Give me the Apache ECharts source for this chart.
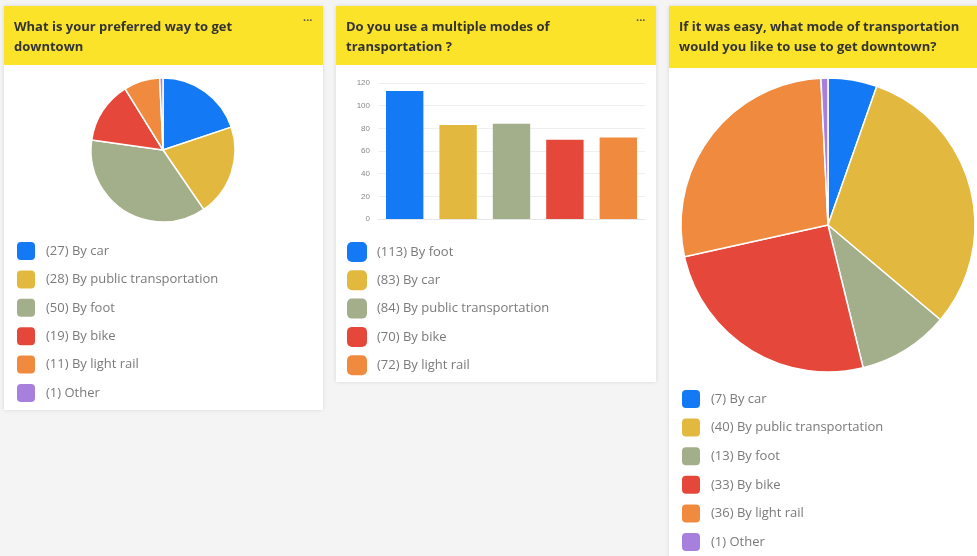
<!DOCTYPE html>
<html><head><meta charset="utf-8">
<script src="https://cdn.jsdelivr.net/npm/echarts@6/dist/echarts.min.js"></script>
<style>html,body{margin:0;padding:0;background:#f4f4f4;}#c{width:977px;height:556px;}</style>
</head><body><div id="c"></div>
<script>
// ---- data ----
const titles = [
  "What is your preferred way to get\ndowntown",
  "Do you use a multiple modes of\ntransportation ?",
  "If it was easy, what mode of transportation\nwould you like to use to get downtown?"
];
const pref1Labels = ["By car", "By public transportation", "By foot", "By bike", "By light rail", "Other"];
const pref1Values = [27, 28, 50, 19, 11, 1];
const multiLabels = ["By foot", "By car", "By public transportation", "By bike", "By light rail"];
const multiValues = [113, 83, 84, 70, 72];
const easyLabels = ["By car", "By public transportation", "By foot", "By bike", "By light rail", "Other"];
const easyValues = [7, 40, 13, 33, 36, 1];
const yTicks = [0, 20, 40, 60, 80, 100, 120];

const colors = ["#1479F5", "#E2B83E", "#A3AE8A", "#E5483A", "#EF8A3F", "#A77FDC"];
const legendText = {color: "#7a7a7a", fontSize: 13, fontFamily: "Open Sans", padding: [0, 0, 0, 5]};

function pieData(labels, values) {
  return labels.map((l, i) => ({name: "(" + values[i] + ") " + l, value: values[i], itemStyle: {color: colors[i]}}));
}
const pie1 = pieData(pref1Labels, pref1Values);
const pie3 = pieData(easyLabels, easyValues);
const barNames = multiLabels.map((l, i) => "(" + multiValues[i] + ") " + l);

const cards = [
  {x: 4, y: 6, w: 319, h: 404, hh: 59},
  {x: 336, y: 6, w: 320, h: 376, hh: 59},
  {x: 669, y: 6, w: 310, h: 552, hh: 62}
];
const graphic = [];
cards.forEach((c, i) => {
  graphic.push({type: "rect", shape: {x: c.x, y: c.y, width: c.w, height: c.h},
    style: {fill: "#fff", shadowBlur: 4, shadowColor: "rgba(0,0,0,0.12)"}, z: -10});
  graphic.push({type: "rect", shape: {x: c.x, y: c.y, width: c.w, height: c.hh},
    style: {fill: "#FBE32A"}, z: -9});
  graphic.push({type: "text", x: c.x + 10, y: c.y + 11,
    style: {text: titles[i], fill: "#333", font: "bold 13px 'Open Sans'", lineHeight: 20}, z: 5});
  if (i < 2) graphic.push({type: "text", x: c.x + c.w - 20, y: c.y + 9,
    style: {text: "···", fill: "#555", font: "bold 11px 'Open Sans'"}, z: 5});
});

const barSeries = barNames.map((n, i) => ({
  type: "bar", name: n, stack: "s", xAxisIndex: 0, yAxisIndex: 0,
  barWidth: "70%", itemStyle: {color: colors[i]},
  data: multiValues.map((v, j) => j === i ? v : "-")
}));

const legendBase = {orient: "vertical", itemWidth: 20, itemHeight: 20, height: 300,
  icon: "roundRect", textStyle: legendText};

const chart = echarts.init(document.getElementById("c"));
chart.setOption({
  animation: false,
  backgroundColor: "#f4f4f4",
  graphic: graphic,
  grid: {left: 378, right: 332, top: 83, bottom: 337},
  xAxis: {type: "category", data: multiLabels, axisLabel: {show: false}, axisTick: {show: false},
    axisLine: {lineStyle: {color: "#e6e6e6"}}},
  yAxis: {type: "value", min: 0, max: 120, interval: 20,
    axisLabel: {color: "#888", fontSize: 8, formatter: v => yTicks.includes(v) ? String(v) : ""},
    splitLine: {lineStyle: {color: "#efefef"}}},
  legend: [
    Object.assign({data: pie1.map(d => d.name), left: 10, top: 235, itemGap: 6.4}, legendBase),
    Object.assign({data: barNames, left: 342, top: 237, itemGap: 8.3}, legendBase),
    Object.assign({data: pie3.map(d => d.name), left: 675, top: 383, itemGap: 6.6}, legendBase)
  ],
  series: [
    {type: "pie", center: [163, 150], radius: 72, data: pie1, label: {show: false}, labelLine: {show: false},
      itemStyle: {borderColor: "#fff", borderWidth: 1.5}},
    ...barSeries,
    {type: "pie", center: [828, 225], radius: 147, data: pie3, label: {show: false}, labelLine: {show: false},
      itemStyle: {borderColor: "#fff", borderWidth: 1.5}}
  ]
});
</script></body></html>
